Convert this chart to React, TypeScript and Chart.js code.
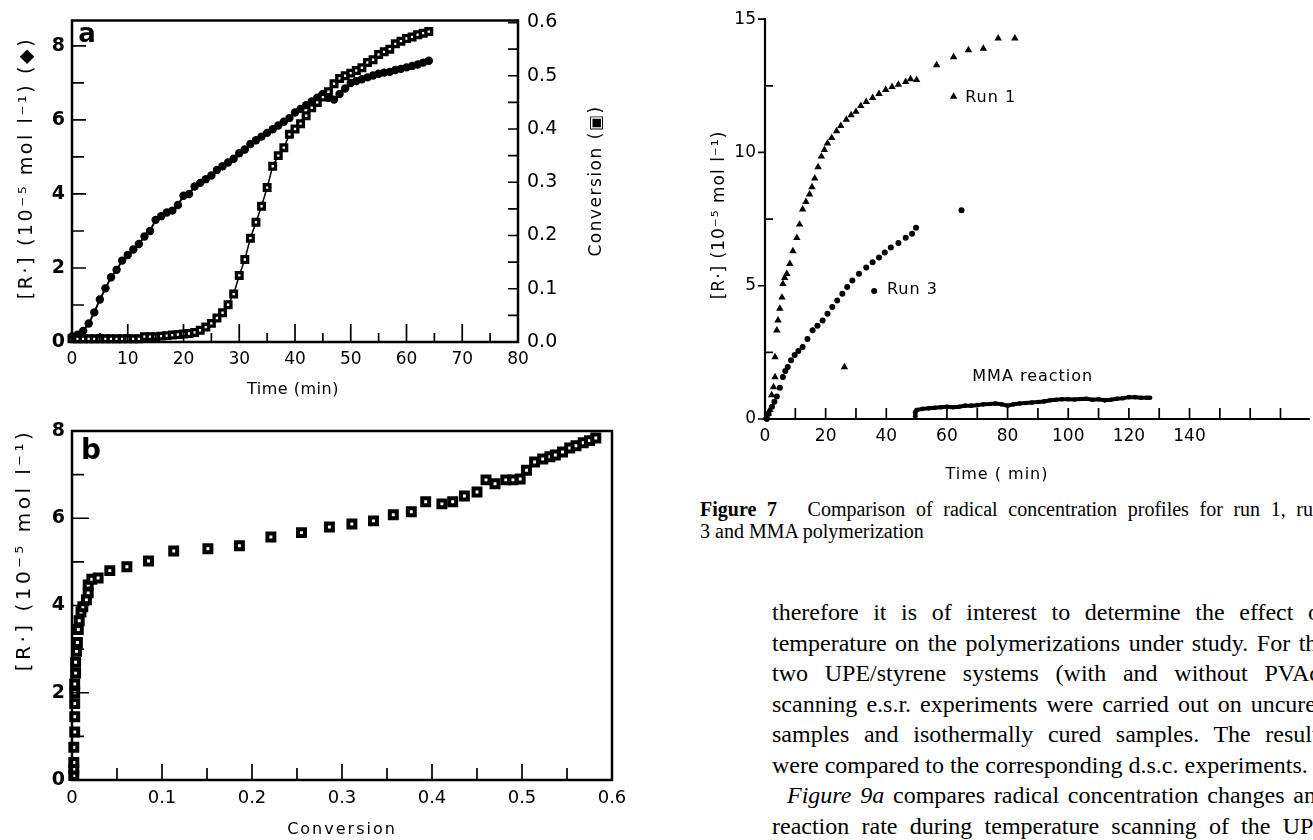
import React, { useEffect, useRef } from "react";
import { Chart, registerables } from "chart.js";

Chart.register(...registerables);

// ---------------- Panel a: [R.] and conversion vs time ----------------
const timeA = [
  0, 1, 2, 3, 4, 5, 6, 7, 8, 9,
  10, 11, 12, 13, 14, 15, 16, 17, 18, 19,
  20, 21, 22, 23, 24, 25, 26, 27, 28, 29,
  30, 31, 32, 33, 34, 35, 36, 37, 38, 39,
  40, 41, 42, 43, 44, 45, 46, 47, 48, 49,
  50, 51, 52, 53, 54, 55, 56, 57, 58, 59,
  60, 61, 62, 63, 64,
];
const radicalA = [
  0.15, 0.2, 0.3, 0.5, 0.8, 1.15, 1.45, 1.75, 1.95, 2.2,
  2.35, 2.5, 2.65, 2.85, 3.0, 3.3, 3.4, 3.5, 3.55, 3.7,
  3.95, 4.0, 4.2, 4.3, 4.4, 4.5, 4.65, 4.75, 4.85, 4.95,
  5.1, 5.2, 5.35, 5.45, 5.55, 5.65, 5.75, 5.85, 5.95, 6.05,
  6.2, 6.3, 6.4, 6.5, 6.6, 6.7, 6.6, 6.55, 6.7, 6.85,
  7.0, 7.05, 7.1, 7.15, 7.2, 7.25, 7.28, 7.3, 7.35, 7.38,
  7.42, 7.46, 7.5, 7.55, 7.6,
];
const conversionA = [
  0.006, 0.006, 0.006, 0.006, 0.006, 0.006, 0.006, 0.006, 0.006, 0.006,
  0.006, 0.006, 0.006, 0.01, 0.01, 0.01, 0.011, 0.012, 0.013, 0.014,
  0.015, 0.016, 0.018, 0.022, 0.028, 0.035, 0.045, 0.055, 0.07, 0.09,
  0.125, 0.155, 0.195, 0.225, 0.255, 0.29, 0.33, 0.35, 0.365, 0.39,
  0.4, 0.41, 0.425, 0.44, 0.45, 0.46, 0.47, 0.485, 0.495, 0.5,
  0.505, 0.51, 0.515, 0.525, 0.53, 0.54, 0.545, 0.55, 0.56, 0.565,
  0.57, 0.573, 0.577, 0.58, 0.583,
];
const aTimeTicks = [0, 10, 20, 30, 40, 50, 60, 70, 80];
const aTimeMinor = [0, 5, 10, 15, 20, 25, 30, 35, 40, 45, 50, 55, 60, 65, 70, 75, 80];
const aRadTicks = [0, 2, 4, 6, 8];
const aRadMinor = [0, 1, 2, 3, 4, 5, 6, 7, 8];
const aConvTicks = [0, 0.1, 0.2, 0.3, 0.4, 0.5, 0.6];
const aConvMinor = [0.05, 0.1, 0.15, 0.2, 0.25, 0.3, 0.35, 0.4, 0.45, 0.5, 0.55, 0.6];

// ---------------- Panel b: [R.] vs conversion ----------------
const conversionB = [
  0.002, 0.002, 0.002, 0.002, 0.003, 0.003, 0.003, 0.003, 0.003, 0.004,
  0.004, 0.005, 0.006, 0.007, 0.008, 0.01,
  0.012, 0.016, 0.018, 0.018, 0.022, 0.029, 0.042, 0.061, 0.085, 0.113,
  0.151, 0.186, 0.221, 0.255, 0.286, 0.311, 0.335, 0.357, 0.377, 0.393,
  0.411, 0.423, 0.436, 0.45, 0.46, 0.47, 0.482, 0.49, 0.498, 0.505,
  0.514, 0.523, 0.531, 0.537, 0.545, 0.553, 0.56, 0.568, 0.575, 0.582,
];
const radicalB = [
  0.1, 0.25, 0.4, 0.75, 1.1, 1.45, 1.75, 2.0, 2.2, 2.45,
  2.7, 2.95, 3.15, 3.45, 3.65, 3.85,
  3.97, 4.13, 4.29, 4.47, 4.6, 4.63, 4.8, 4.89, 5.02, 5.25,
  5.3, 5.37, 5.57, 5.67, 5.8, 5.87, 5.94, 6.08, 6.15, 6.38,
  6.33, 6.38, 6.51, 6.6, 6.88, 6.79, 6.88, 6.88, 6.9, 7.1,
  7.29, 7.36, 7.41, 7.45, 7.52, 7.61, 7.66, 7.73, 7.78, 7.84,
];
const bConvTicks = [0, 0.1, 0.2, 0.3, 0.4, 0.5, 0.6];
const bConvMinor = [0.05, 0.1, 0.15, 0.2, 0.25, 0.3, 0.35, 0.4, 0.45, 0.5, 0.55];
const bRadTicks = [0, 2, 4, 6, 8];
const bRadMinor = [1, 2, 3, 4, 5, 6, 7];

// ---------------- Figure 7 ----------------
const run1Time = [
  0.3, 0.6, 1.0, 1.6, 2.2, 2.8, 3.3, 3.3, 3.9, 4.3,
  4.9, 5.6, 5.9, 6.5, 7.2, 8.2, 9.2, 10.5, 11.4, 12.4,
  13.5, 14.7, 15.5, 16.4, 17.5, 18.6, 19.6, 20.6, 22, 23.6,
  25, 26.8, 28.4, 30, 31.6, 33.4, 35.5, 37.6, 39.8, 41.9,
  44, 46.4, 48, 50,
  56.6, 62.2, 67.1, 72, 76.9, 82.4,
  26.2,
];
const run1Value = [
  0.05, 0.07, 0.2, 0.34, 0.9, 1.2, 1.57, 2.32, 3.33, 3.7,
  4.14, 4.56, 5.07, 5.3, 5.45, 5.82, 6.3, 6.8, 7.3, 7.87,
  8.15, 8.43, 8.7, 9.03, 9.45, 9.85, 10.1, 10.34, 10.55, 10.8,
  11.0, 11.23, 11.4, 11.53, 11.75, 11.9, 12.05, 12.2, 12.35, 12.46,
  12.55, 12.65, 12.75, 12.72,
  13.28, 13.58, 13.84, 13.9, 14.28, 14.28,
  1.95,
];
const run3Time = [
  0.6, 1.2, 2.3, 3.1, 3.9, 4.9, 5.9, 6.7, 7.5, 8.6,
  9.8, 11, 12.4, 14, 15.7, 17.3, 19, 20.6, 22.2, 23.8,
  25.5, 27.1, 28.8, 31, 33.4, 35.5, 37.6, 39.5, 41.5, 44,
  46.4, 48.5, 49.8,
  64.8,
];
const run3Value = [
  0, 0.2, 0.46, 0.65, 0.84, 1.17, 1.58, 1.8, 1.95, 2.2,
  2.4, 2.55, 2.7, 3.0, 3.33, 3.5, 3.7, 3.95, 4.2, 4.45,
  4.7, 4.95, 5.2, 5.45, 5.68, 5.88, 6.06, 6.25, 6.43, 6.6,
  6.8, 6.95, 7.18,
  7.83,
];
const mmaTime = [
  49.5, 49.5, 50, 52, 54, 56, 58, 60, 62, 64,
  66, 68, 70, 72, 74, 76, 78, 80, 82, 84,
  86, 88, 90, 92, 94, 96, 98, 100, 102, 104,
  106, 108, 110, 112, 114, 116, 118, 120, 122, 124,
  126, 127,
];
const mmaValue = [
  0.1, 0.25, 0.34, 0.38, 0.4, 0.42, 0.44, 0.46, 0.44, 0.46,
  0.5, 0.5, 0.52, 0.55, 0.56, 0.58, 0.55, 0.5, 0.55, 0.58,
  0.6, 0.62, 0.64, 0.66, 0.7, 0.72, 0.74, 0.74, 0.73, 0.75,
  0.76, 0.72, 0.74, 0.7, 0.72, 0.76, 0.78, 0.82, 0.82, 0.8,
  0.8, 0.8,
];
const run1Key = { x: 62.2, y: 12.1, label: "Run 1", lx: 66, ly: 12.05 };
const run3Key = { x: 36, y: 4.8, label: "Run 3", lx: 40.2, ly: 4.83 };
const mmaKey = { label: "MMA reaction", lx: 88.3, ly: 1.57 };
const f7TimeTicks = [0, 20, 40, 60, 80, 100, 120, 140];
const f7TimeMinor = [10, 20, 30, 40, 50, 60, 70, 80, 90, 100, 110, 120, 130, 140, 150, 160, 170];
const f7RadTicks = [0, 5, 10, 15];
const f7RadMinor = [0, 2.5, 5, 7.5, 10, 12.5, 15];

const captionLine1Bold = "Figure 7";
const captionLine1 = "Comparison of radical concentration profiles for run 1, run";
const captionLine2 = "3 and MMA polymerization";
const bodyLines = [
  "therefore it is of interest to determine the effect of",
  "temperature on the polymerizations under study. For the",
  "two UPE/styrene systems (with and without PVAc)",
  "scanning e.s.r. experiments were carried out on uncured",
  "samples and isothermally cured samples. The results",
  "were compared to the corresponding d.s.c. experiments.",
  "compares radical concentration changes and",
  "reaction rate during temperature scanning of the UPE",
];

const SANS = "DejaVu Sans";
const pairs = (xs: number[], ys: number[]) => xs.map((x, i) => ({ x, y: ys[i] }));

const inkPlugin = {
  id: "ink",
  afterDraw(chart: any, _a: any, o: any) {
    const ctx = chart.ctx as CanvasRenderingContext2D;
    const ca = chart.chartArea;
    ctx.save();
    ctx.strokeStyle = "#000";
    ctx.fillStyle = "#000";
    ctx.lineWidth = o.edgeWidth || 2.5;
    ctx.lineCap = "square";
    ctx.beginPath();
    for (const e of o.edges || []) {
      if (e === "left") { ctx.moveTo(ca.left, ca.top); ctx.lineTo(ca.left, ca.bottom); }
      if (e === "right") { ctx.moveTo(ca.right, ca.top); ctx.lineTo(ca.right, ca.bottom); }
      if (e === "top") { ctx.moveTo(ca.left, ca.top); ctx.lineTo(ca.right, ca.top); }
      if (e === "bottom") { ctx.moveTo(ca.left, ca.bottom); ctx.lineTo(ca.right, ca.bottom); }
    }
    ctx.stroke();
    ctx.lineCap = "butt";
    for (const t of o.ticks || []) {
      const sc = chart.scales[t.scale];
      ctx.lineWidth = t.width || 1.7;
      ctx.beginPath();
      for (const v of t.values) {
        const p = sc.getPixelForValue(v);
        const isMajor = (t.major || []).some((m: number) => Math.abs(m - v) < 1e-9);
        const len = isMajor ? t.majorLen : t.minorLen;
        const out = isMajor ? t.majorOut || 0 : t.minorOut || 0;
        if (t.side === "left") { ctx.moveTo(ca.left - out, p); ctx.lineTo(ca.left + len, p); }
        if (t.side === "right") { ctx.moveTo(ca.right + out, p); ctx.lineTo(ca.right - len, p); }
        if (t.side === "bottom") { ctx.moveTo(p, ca.bottom + out); ctx.lineTo(p, ca.bottom - len); }
      }
      ctx.stroke();
    }
    for (const t of o.texts || []) {
      let x = t.x;
      let y = t.y;
      if (t.xv !== undefined) x = chart.scales[t.xs || "x"].getPixelForValue(t.xv);
      if (t.yv !== undefined) y = chart.scales[t.ys || "y"].getPixelForValue(t.yv);
      ctx.save();
      ctx.translate(x, y);
      if (t.rot) ctx.rotate(t.rot);
      ctx.font = t.font;
      (ctx as any).letterSpacing = t.spacing || "0px";
      ctx.textAlign = t.align || "center";
      ctx.textBaseline = "middle";
      ctx.fillText(t.text, 0, 0);
      ctx.restore();
    }
    ctx.restore();
  },
};

const baseScale = (extra: any) => ({
  type: "linear",
  grid: { display: false, drawTicks: false },
  border: { display: false },
  ...extra,
  ticks: { color: "#000", maxRotation: 0, autoSkip: false, ...(extra.ticks || {}) },
});

const fixTicks = (vals: number[]) => (s: any) => {
  s.ticks = vals.map((v) => ({ value: v }));
};

const configA: any = {
  type: "scatter",
  data: {
    datasets: [
      {
        data: pairs(timeA, conversionA),
        yAxisID: "y1",
        showLine: true,
        borderColor: "#000",
        borderWidth: 1.5,
        pointStyle: "rect",
        pointRadius: 4,
        pointBackgroundColor: "#fff",
        pointBorderColor: "#000",
        pointBorderWidth: 3.3,
        clip: false,
      },
      {
        data: pairs(timeA, radicalA),
        yAxisID: "y",
        showLine: true,
        borderColor: "#000",
        borderWidth: 2,
        pointStyle: "circle",
        pointRadius: 4.2,
        pointBackgroundColor: "#000",
        pointBorderColor: "#000",
        pointBorderWidth: 0,
        clip: false,
      },
    ],
  },
  options: {
    responsive: false,
    animation: false,
    events: [],
    layout: { padding: { top: 16, left: 0, right: 0, bottom: 0 } },
    plugins: {
      legend: { display: false },
      tooltip: { enabled: false },
      ink: {
        edges: ["left", "right", "top", "bottom"],
        ticks: [
          { scale: "y", side: "left", values: aRadMinor, major: aRadTicks, majorLen: 14, minorLen: 12 },
          { scale: "x", side: "bottom", values: aTimeMinor, major: aTimeTicks, majorLen: 18, minorLen: 9 },
          { scale: "y1", side: "right", values: aConvMinor, major: aConvTicks, majorLen: 10, minorLen: 10 },
        ],
        texts: [
          { text: "a", x: 87, y: 35, font: `bold 26px ${SANS}` },
          { text: "[R·] (10⁻⁵ mol l⁻¹) (◆)", x: 27, y: 168, rot: -Math.PI / 2, font: `19px ${SANS}`, spacing: "2.6px" },
          { text: "Conversion (▣)", x: 597, y: 181, rot: -Math.PI / 2, font: `17px ${SANS}`, spacing: "1.5px" },
          { text: "Time (min)", x: 293, y: 390, font: `16px ${SANS}`, spacing: "0.5px" },
        ],
      },
    },
    scales: {
      x: baseScale({
        min: 0, max: 80, position: "bottom",
        afterBuildTicks: fixTicks(aTimeTicks),
        afterFit: (s: any) => { s.height = 68; },
        ticks: { padding: 7, font: { family: SANS, size: 17 } },
      }),
      y: baseScale({
        min: 0, max: 8.69, position: "left",
        afterBuildTicks: fixTicks(aRadTicks),
        afterFit: (s: any) => { s.width = 72; },
        ticks: { padding: 7, font: { family: SANS, size: 19, weight: "bold" } },
      }),
      y1: baseScale({
        min: 0, max: 0.604, position: "right",
        afterBuildTicks: fixTicks(aConvTicks),
        afterFit: (s: any) => { s.width = 122; },
        ticks: { padding: 9, font: { family: SANS, size: 19 }, callback: (v: any) => Number(v).toFixed(1) },
      }),
    },
  },
  plugins: [inkPlugin],
};

const configB: any = {
  type: "scatter",
  data: {
    datasets: [
      {
        data: pairs(conversionB, radicalB),
        showLine: false,
        pointStyle: "rect",
        pointRadius: 4.9,
        pointBackgroundColor: "#fff",
        pointBorderColor: "#000",
        pointBorderWidth: 4,
        clip: false,
      },
    ],
  },
  options: {
    responsive: false,
    animation: false,
    events: [],
    layout: { padding: { top: 31, left: 0, right: 28, bottom: 0 } },
    plugins: {
      legend: { display: false },
      tooltip: { enabled: false },
      ink: {
        edges: ["left", "right", "top", "bottom"],
        ticks: [
          { scale: "y", side: "left", values: bRadMinor, major: bRadTicks, majorLen: 17, minorLen: 12 },
          { scale: "x", side: "bottom", values: bConvMinor, major: bConvTicks, majorLen: 16, minorLen: 12 },
        ],
        texts: [
          { text: "b", x: 91, y: 52, font: `bold 28px ${SANS}` },
          { text: "[R·] (10⁻⁵ mol l⁻¹)", x: 25, y: 150, rot: -Math.PI / 2, font: `20px ${SANS}`, spacing: "3.5px" },
          { text: "Conversion", x: 342, y: 430, font: `16px ${SANS}`, spacing: "2px" },
        ],
      },
    },
    scales: {
      x: baseScale({
        min: 0, max: 0.6, position: "bottom",
        afterBuildTicks: fixTicks(bConvTicks),
        afterFit: (s: any) => { s.height = 60; },
        ticks: { padding: 8, font: { family: SANS, size: 18 }, callback: (v: any) => (Number(v) === 0 ? "0" : Number(v).toFixed(1)) },
      }),
      y: baseScale({
        min: 0, max: 8, position: "left",
        afterBuildTicks: fixTicks(bRadTicks),
        afterFit: (s: any) => { s.width = 72; },
        ticks: { padding: 7, font: { family: SANS, size: 19, weight: "bold" } },
      }),
    },
  },
  plugins: [inkPlugin],
};

const config7: any = {
  type: "scatter",
  data: {
    datasets: [
      {
        data: pairs(mmaTime, mmaValue),
        showLine: true,
        borderColor: "#000",
        borderWidth: 4,
        pointStyle: "circle",
        pointRadius: 2.3,
        pointBackgroundColor: "#000",
        pointBorderWidth: 0,
        clip: false,
      },
      {
        data: [...pairs(run1Time, run1Value), { x: run1Key.x, y: run1Key.y }],
        showLine: false,
        pointStyle: "triangle",
        pointRadius: 4.3,
        pointBackgroundColor: "#000",
        pointBorderColor: "#000",
        pointBorderWidth: 0,
        clip: false,
      },
      {
        data: [...pairs(run3Time, run3Value), { x: run3Key.x, y: run3Key.y }],
        showLine: false,
        pointStyle: "circle",
        pointRadius: 3,
        pointBackgroundColor: "#000",
        pointBorderColor: "#000",
        pointBorderWidth: 0,
        clip: false,
      },
    ],
  },
  options: {
    responsive: false,
    animation: false,
    events: [],
    layout: { padding: { top: 18, left: 0, right: 0, bottom: 0 } },
    plugins: {
      legend: { display: false },
      tooltip: { enabled: false },
      ink: {
        edgeWidth: 2.2,
        edges: ["left", "bottom"],
        ticks: [
          { scale: "y", side: "left", values: f7RadMinor, major: f7RadTicks, majorLen: 0, majorOut: 7, minorLen: 8 },
          { scale: "x", side: "bottom", values: f7TimeMinor, major: [], majorLen: 11, minorLen: 11 },
        ],
        texts: [
          { text: "[R·] (10⁻⁵ mol l⁻¹)", x: 20, y: 215, rot: -Math.PI / 2, font: `17px ${SANS}`, spacing: "1px" },
          { text: "Time ( min)", x: 297, y: 475, font: `16px ${SANS}`, spacing: "1px" },
          { text: run1Key.label, xv: run1Key.lx, yv: run1Key.ly, align: "left", font: `16px ${SANS}`, spacing: "1px" },
          { text: run3Key.label, xv: run3Key.lx, yv: run3Key.ly, align: "left", font: `16px ${SANS}`, spacing: "1px" },
          { text: mmaKey.label, xv: mmaKey.lx, yv: mmaKey.ly, align: "center", font: `16px ${SANS}`, spacing: "1px" },
        ],
      },
    },
    scales: {
      x: baseScale({
        min: 0, max: 179.3, position: "bottom",
        afterBuildTicks: fixTicks(f7TimeTicks),
        afterFit: (s: any) => { s.height = 71; },
        ticks: { padding: 7, font: { family: SANS, size: 17 } },
      }),
      y: baseScale({
        min: 0, max: 15, position: "left",
        afterBuildTicks: fixTicks(f7RadTicks),
        afterFit: (s: any) => { s.width = 65; },
        ticks: { padding: 9, font: { family: SANS, size: 17 } },
      }),
    },
  },
  plugins: [inkPlugin],
};

function ChartCanvas({ config, left, top, width, height }: any) {
  const ref = useRef<HTMLCanvasElement>(null);
  useEffect(() => {
    const chart = new Chart(ref.current as HTMLCanvasElement, config);
    return () => chart.destroy();
  }, [config]);
  return (
    <canvas
      ref={ref}
      width={width}
      height={height}
      style={{ position: "absolute", left, top, width, height }}
    />
  );
}

const serif = "'Liberation Serif', 'Times New Roman', serif";
const justLine: any = {
  textAlign: "justify",
  textAlignLast: "justify",
  whiteSpace: "nowrap",
  height: 30.5,
  lineHeight: "30.5px",
};

export default function App() {
  return (
    <div
      style={{
        position: "absolute",
        left: 0,
        top: 0,
        width: 1313,
        height: 840,
        overflow: "hidden",
        background: "#fff",
      }}
    >
      <ChartCanvas config={configA} left={0} top={0} width={640} height={410} />
      <ChartCanvas config={configB} left={0} top={400} width={640} height={440} />
      <ChartCanvas config={config7} left={700} top={0} width={613} height={490} />
      <div
        style={{
          position: "absolute",
          left: 700,
          top: 498,
          width: 623,
          fontFamily: serif,
          fontSize: 20,
          color: "#000",
        }}
      >
        <div style={{ ...justLine, height: 22, lineHeight: "22px" }}>
          <b>{captionLine1Bold}</b>
          {"\u2003 "}
          {captionLine1}
        </div>
        <div style={{ height: 22, lineHeight: "22px", whiteSpace: "nowrap" }}>{captionLine2}</div>
      </div>
      <div
        style={{
          position: "absolute",
          left: 772,
          top: 597,
          width: 556,
          fontFamily: serif,
          fontSize: 24,
          color: "#000",
        }}
      >
        {bodyLines.map((line, i) => {
          if (i === 5) {
            return (
              <div key={i} style={{ ...justLine, textAlign: "left", textAlignLast: "left" }}>
                {line}
              </div>
            );
          }
          if (i === 6) {
            return (
              <div key={i} style={{ ...justLine, paddingLeft: 15 }}>
                <i>Figure 9a</i> {line}
              </div>
            );
          }
          return (
            <div key={i} style={justLine}>
              {line}
            </div>
          );
        })}
      </div>
    </div>
  );
}
